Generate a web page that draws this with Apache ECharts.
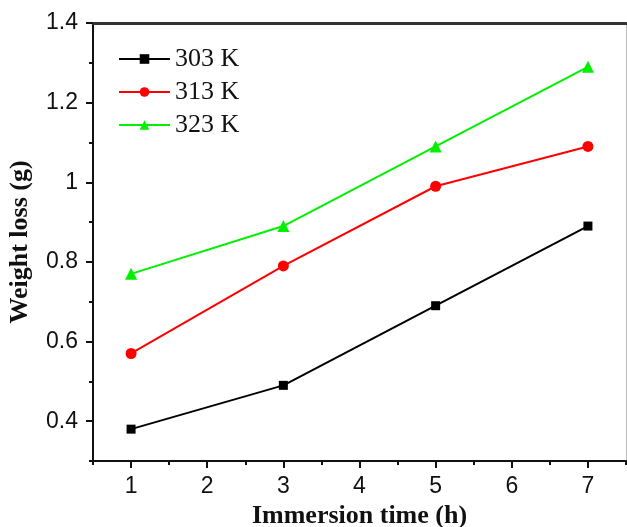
<!DOCTYPE html>
<html>
<head>
<meta charset="utf-8">
<script src="https://cdn.jsdelivr.net/npm/echarts@6/dist/echarts.min.js"></script>
<style>
	html, body { margin: 0; padding: 0; background: #fff; }
	#chart { width: 627px; height: 527px; }
</style>
</head>
<body>
<div id="chart"></div>
<script>
// immersion time (h)
const times = [1, 3, 5, 7];
// weight loss (g) per temperature
const k303 = [0.38, 0.49, 0.69, 0.89];
const k313 = [0.57, 0.79, 0.99, 1.09];
const k323 = [0.77, 0.89, 1.09, 1.29];

const xMajor = [1, 2, 3, 4, 5, 6, 7];
const xMinor = [0.5, 1.5, 2.5, 3.5, 4.5, 5.5, 6.5, 7.5];
const yMajor = [0.4, 0.6, 0.8, 1.0, 1.2, 1.4];
const yMinor = [0.3, 0.5, 0.7, 0.9, 1.1, 1.3];

const pairs = (ys) => times.map((t, i) => [t, ys[i]]);

const serif = '"Liberation Serif", "Times New Roman", serif';
const sans = '"Liberation Sans", Arial, sans-serif';

let myChart = echarts.init(document.getElementById('chart'));
myChart.setOption({
	animation: false,
	grid: { left: 93, top: 23, right: 1, bottom: 66, containLabel: false, outerBoundsMode: 'none' },
	legend: {
		orient: 'vertical',
		left: 113,
		top: 41,
		itemWidth: 51,
		itemHeight: 12,
		itemGap: 7,
		textStyle: { fontFamily: serif, fontSize: 26, lineHeight: 25, color: '#111' },
		data: ['303 K', '313 K', '323 K']
	},
	xAxis: [
		{
			type: 'value', position: 'bottom', min: 0.5, max: 7.5, interval: 0.5,
			name: 'Immersion time (h)', nameLocation: 'middle', nameGap: 40,
			nameTextStyle: { fontFamily: serif, fontSize: 26, fontWeight: 'bold', color: '#111' },
			axisLine: { lineStyle: { color: '#111', width: 2 } },
			axisTick: { show: true, inside: false, length: 7, customValues: xMajor, lineStyle: { color: '#111', width: 2 } },
			axisLabel: { customValues: xMajor, margin: 14, fontFamily: sans, fontSize: 23, color: '#111' },
			splitLine: { show: false }
		},
		{
			type: 'value', position: 'bottom', min: 0.5, max: 7.5, interval: 0.5,
			axisLine: { show: false },
			axisTick: { show: true, length: 4, customValues: xMinor, lineStyle: { color: '#111', width: 2 } },
			axisLabel: { show: false },
			splitLine: { show: false }
		},
		{
			type: 'value', position: 'top', min: 0.5, max: 7.5, interval: 0.5,
			axisLine: { lineStyle: { color: '#333', width: 3 } },
			axisTick: { show: false }, axisLabel: { show: false }, splitLine: { show: false }
		}
	],
	yAxis: [
		{
			type: 'value', position: 'left', min: 0.3, max: 1.4, interval: 0.1,
			name: 'Weight loss (g)', nameLocation: 'middle', nameGap: 60,
			nameTextStyle: { fontFamily: serif, fontSize: 26, fontWeight: 'bold', color: '#111' },
			axisLine: { show: true, lineStyle: { color: '#111', width: 2 } },
			axisTick: { show: true, length: 7, customValues: yMajor, lineStyle: { color: '#111', width: 2 } },
			axisLabel: {
				customValues: yMajor, margin: 15, fontFamily: sans, fontSize: 23, color: '#111',
				formatter: (v) => String(+v.toFixed(1))
			},
			splitLine: { show: false }
		},
		{
			type: 'value', position: 'left', min: 0.3, max: 1.4, interval: 0.1,
			axisLine: { show: false },
			axisTick: { show: true, length: 4, customValues: yMinor, lineStyle: { color: '#111', width: 2 } },
			axisLabel: { show: false },
			splitLine: { show: false }
		},
		{
			type: 'value', position: 'right', min: 0.3, max: 1.4, interval: 0.1,
			axisLine: { show: true, lineStyle: { color: '#bbb', width: 1 } },
			axisTick: { show: false }, axisLabel: { show: false }, splitLine: { show: false }
		}
	],
	series: [
		{
			name: '303 K', type: 'line', data: pairs(k303),
			symbol: 'rect', symbolSize: 9,
			itemStyle: { color: '#000' }, lineStyle: { color: '#000', width: 2 }
		},
		{
			name: '313 K', type: 'line', data: pairs(k313),
			symbol: 'circle', symbolSize: 11,
			itemStyle: { color: '#ff0000' }, lineStyle: { color: '#ff0000', width: 2 }
		},
		{
			name: '323 K', type: 'line', data: pairs(k323),
			symbol: 'triangle', symbolSize: 12,
			itemStyle: { color: '#00f000' }, lineStyle: { color: '#00f000', width: 2 }
		}
	]
});
</script>
</body>
</html>
